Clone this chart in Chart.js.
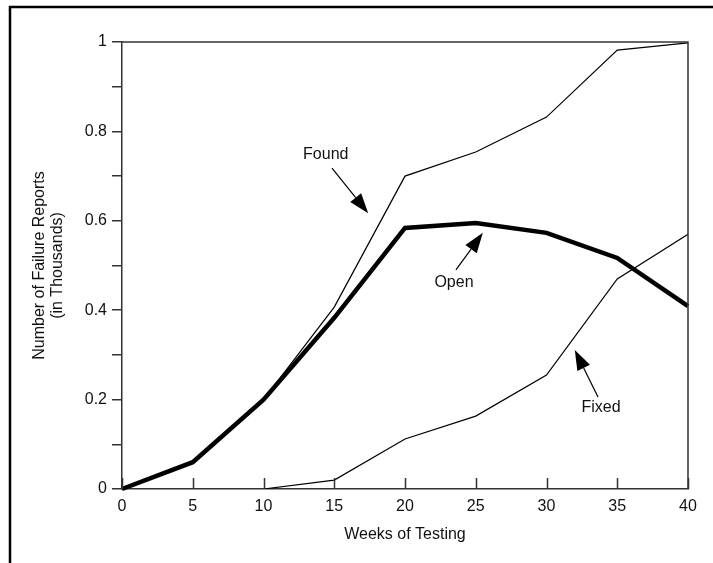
<!DOCTYPE html>
<html>
<head>
<meta charset="utf-8">
<script src="https://cdn.jsdelivr.net/npm/chart.js@4/dist/chart.umd.min.js"></script>
<style>
  html, body { margin: 0; padding: 0; background: #fff; }
  #wrap { width: 713px; height: 563px; }
  canvas { display: block; }
</style>
</head>
<body>
<div id="wrap"><canvas id="chart" width="713" height="563"></canvas></div>
<script>
// Weekly failure-report counts (thousands)
const weeks = [0, 5, 10, 15, 20, 25, 30, 35, 40];
const foundReports = [0, 0.06, 0.2, 0.407, 0.70, 0.754, 0.832, 0.982, 0.998];
const openReports = [0, 0.06, 0.2, 0.383, 0.584, 0.595, 0.573, 0.517, 0.409];
const fixedWeeks = [10, 15, 20, 25, 30, 35, 40];
const fixedReports = [0, 0.02, 0.112, 0.163, 0.255, 0.47, 0.57];

const xTickValues = [0, 5, 10, 15, 20, 25, 30, 35, 40];
const yTickValues = [0, 0.1, 0.2, 0.3, 0.4, 0.5, 0.6, 0.7, 0.8, 0.9, 1];
const yTickLabels = ['0', '', '0.2', '', '0.4', '', '0.6', '', '0.8', '', '1'];

// Callout labels with arrows, in data units: text position, arrow tail, arrow tip
const callouts = [
  { text: 'Found', tx: 14.4, ty: 0.747, x0: 14.84, y0: 0.718, x1: 17.4, y1: 0.617 },
  { text: 'Open',  tx: 23.46, ty: 0.461, x0: 23.6, y0: 0.490, x1: 25.5, y1: 0.573 },
  { text: 'Fixed', tx: 33.85, ty: 0.181, x0: 33.64, y0: 0.206, x1: 32.0, y1: 0.311 }
];

const FONT = "'Liberation Sans', Arial, Helvetica, sans-serif";
const FONT_SIZE = 16;
const INK = '#111';
const AXIS = '#333';

const toPoints = (xs, ys) => xs.map((x, i) => ({ x: x, y: ys[i] }));

const decorations = {
  id: 'decorations',
  afterDatasetsDraw(chart) {
    const ctx = chart.ctx;
    const area = chart.chartArea;
    const xs = chart.scales.x;
    const ys = chart.scales.y;
    ctx.save();

    // page frame (left and top edges)
    ctx.strokeStyle = '#000';
    ctx.lineWidth = 2.5;
    ctx.beginPath();
    ctx.moveTo(10, 563);
    ctx.lineTo(10, 7);
    ctx.lineTo(713, 7);
    ctx.stroke();

    // top and right edges of the plot box
    ctx.strokeStyle = AXIS;
    ctx.lineWidth = 1.5;
    ctx.beginPath();
    ctx.moveTo(area.left, area.top);
    ctx.lineTo(area.right, area.top);
    ctx.lineTo(area.right, area.bottom);
    ctx.stroke();

    // inward tick marks on the week axis
    ctx.beginPath();
    xTickValues.forEach(v => {
      const px = Math.round(xs.getPixelForValue(v)) + 0.5;
      ctx.moveTo(px, area.bottom);
      ctx.lineTo(px, area.bottom - 11);
    });
    ctx.stroke();

    // axis titles
    ctx.fillStyle = INK;
    ctx.font = FONT_SIZE + 'px ' + FONT;
    ctx.textAlign = 'center';
    ctx.textBaseline = 'middle';
    ctx.fillText('Weeks of Testing', (area.left + area.right) / 2, 535);
    ctx.save();
    ctx.translate(0, (area.top + area.bottom) / 2);
    ctx.rotate(-Math.PI / 2);
    ctx.fillText('Number of Failure Reports', 0, 40);
    ctx.fillText('(in Thousands)', 0, 58);
    ctx.restore();

    // callouts
    callouts.forEach(c => {
      const tx = xs.getPixelForValue(c.tx), ty = ys.getPixelForValue(c.ty);
      const x0 = xs.getPixelForValue(c.x0), y0 = ys.getPixelForValue(c.y0);
      const x1 = xs.getPixelForValue(c.x1), y1 = ys.getPixelForValue(c.y1);
      ctx.fillText(c.text, tx, ty);
      const ang = Math.atan2(y1 - y0, x1 - x0);
      const headLen = 20, headHalf = 7;
      const bx = x1 - headLen * Math.cos(ang), by = y1 - headLen * Math.sin(ang);
      ctx.strokeStyle = '#000';
      ctx.lineWidth = 1.2;
      ctx.beginPath();
      ctx.moveTo(x0, y0);
      ctx.lineTo(bx, by);
      ctx.stroke();
      ctx.fillStyle = '#000';
      ctx.beginPath();
      ctx.moveTo(x1, y1);
      ctx.lineTo(bx + headHalf * Math.sin(ang), by - headHalf * Math.cos(ang));
      ctx.lineTo(bx - headHalf * Math.sin(ang), by + headHalf * Math.cos(ang));
      ctx.closePath();
      ctx.fill();
      ctx.fillStyle = INK;
    });

    ctx.restore();
  }
};

new Chart(document.getElementById('chart'), {
  type: 'line',
  data: {
    datasets: [
      { label: 'Found', data: toPoints(weeks, foundReports), borderColor: '#000', borderWidth: 1.2, pointRadius: 0, tension: 0, fill: false },
      { label: 'Fixed', data: toPoints(fixedWeeks, fixedReports), borderColor: '#000', borderWidth: 1.2, pointRadius: 0, tension: 0, fill: false },
      { label: 'Open', data: toPoints(weeks, openReports), borderColor: '#000', borderWidth: 4.5, pointRadius: 0, tension: 0, fill: false, borderJoinStyle: 'miter', clip: false }
    ]
  },
  options: {
    responsive: false,
    animation: false,
    devicePixelRatio: 1,
    layout: { padding: { left: 0, right: 25, top: 42, bottom: 0 } },
    plugins: { legend: { display: false }, tooltip: { enabled: false } },
    scales: {
      x: {
        type: 'linear',
        min: 0,
        max: 40,
        afterBuildTicks: s => { s.ticks = xTickValues.map(v => ({ value: v })); },
        afterFit: s => { s.height = 74; },
        grid: { display: true, drawOnChartArea: false, drawTicks: false },
        border: { display: true, color: AXIS, width: 1.5 },
        ticks: { color: INK, font: { family: FONT, size: FONT_SIZE }, padding: 8, maxRotation: 0, callback: v => String(v) }
      },
      y: {
        type: 'linear',
        min: 0,
        max: 1,
        afterBuildTicks: s => { s.ticks = yTickValues.map(v => ({ value: v })); },
        afterFit: s => { s.width = 122; },
        grid: { display: true, drawOnChartArea: false, drawTicks: true, tickLength: 10, color: AXIS, lineWidth: 1.5 },
        border: { display: true, color: AXIS, width: 1.5 },
        ticks: { color: INK, font: { family: FONT, size: FONT_SIZE }, padding: 5, callback: (v, i) => yTickLabels[i] }
      }
    }
  },
  plugins: [decorations]
});
</script>
</body>
</html>
